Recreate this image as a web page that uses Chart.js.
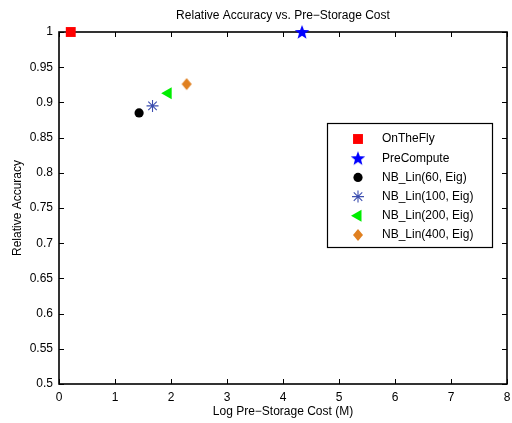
<!DOCTYPE html>
<html>
<head>
<meta charset="utf-8">
<script src="https://cdn.jsdelivr.net/npm/chart.js@4/dist/chart.umd.min.js"></script>
<style>
  html, body { margin:0; padding:0; background:#fff; }
  #wrap { width:512px; height:423px; overflow:hidden; }
</style>
</head>
<body>
<div id="wrap"><canvas id="c" width="512" height="423"></canvas></div>
<script>
// series (x = log pre-storage cost, y = relative accuracy)
var seriesNames = ['OnTheFly','PreCompute','NB_Lin(60, Eig)','NB_Lin(100, Eig)','NB_Lin(200, Eig)','NB_Lin(400, Eig)'];
var costX = [0.21, 4.34, 1.43, 1.67, 1.95, 2.28];
var accuracyY = [1.0, 1.0, 0.885, 0.895, 0.913, 0.926];
var xTicks = [0,1,2,3,4,5,6,7,8];
var yTicks = [0.5,0.55,0.6,0.65,0.7,0.75,0.8,0.85,0.9,0.95,1];

(function(){
  Chart.defaults.font.family = '"Liberation Sans", Arial, sans-serif';
  Chart.defaults.font.size = 12;
  Chart.defaults.color = '#000';

  // filled five point star, MATLAB style 'p'
  function starImg(color){
    var c = document.createElement('canvas'); c.width = 16; c.height = 16;
    var g = c.getContext('2d'); g.fillStyle = color; g.beginPath();
    for(var i=0;i<10;i++){
      var r = i%2 ? 3.2 : 7.6, a = -Math.PI/2 + i*Math.PI/5;
      var px = 8 + r*Math.cos(a), py = 8.6 + r*Math.sin(a);
      if(i===0) g.moveTo(px,py); else g.lineTo(px,py);
    }
    g.closePath(); g.fill();
    return c;
  }

  // MATLAB diamond is a bit taller than wide
  function diamondImg(color){
    var c = document.createElement('canvas'); c.width = 12; c.height = 14;
    var g = c.getContext('2d'); g.fillStyle = color; g.beginPath();
    g.moveTo(6,1); g.lineTo(11,7); g.lineTo(6,13); g.lineTo(1,7); g.closePath(); g.fill();
    return c;
  }

  var styles = [
    { pointStyle:'rect', radius:7, color:'#ff0000', rotation:0, bw:0 },
    { pointStyle:starImg('#0000ff'), radius:8, color:'#0000ff', rotation:0, bw:0 },
    { pointStyle:'circle', radius:4.6, color:'#000000', rotation:0, bw:0 },
    { pointStyle:'star', radius:6, color:'#3d4fb0', rotation:0, bw:1.1 },
    { pointStyle:'triangle', radius:7, color:'#00ee00', rotation:-90, bw:0 },
    { pointStyle:diamondImg('#e08020'), radius:7, color:'#e08020', rotation:0, bw:0 }
  ];

  var datasets = seriesNames.map(function(name, i){
    var s = styles[i];
    return {
      label: name,
      data: [{ x: costX[i], y: accuracyY[i] }],
      pointStyle: s.pointStyle,
      pointRadius: s.radius,
      pointHoverRadius: s.radius,
      pointRotation: s.rotation,
      backgroundColor: s.color,
      borderColor: s.color,
      borderWidth: s.bw,
      showLine: false,
      clip: false
    };
  });

  // box with inward ticks on all four sides, drawn under the markers
  var framePlugin = {
    id: 'frame',
    beforeDatasetsDraw: function(chart){
      var a = chart.chartArea, ctx = chart.ctx, xs = chart.scales.x, ys = chart.scales.y, L = 5;
      ctx.save();
      ctx.strokeStyle = '#000'; ctx.lineWidth = 1;
      ctx.beginPath();
      xTicks.forEach(function(v){
        var px = Math.round(xs.getPixelForValue(v)) + 0.5;
        ctx.moveTo(px, a.bottom); ctx.lineTo(px, a.bottom - L);
        ctx.moveTo(px, a.top); ctx.lineTo(px, a.top + L);
      });
      yTicks.forEach(function(v){
        var py = Math.round(ys.getPixelForValue(v)) + 0.5;
        ctx.moveTo(a.left, py); ctx.lineTo(a.left + L, py);
        ctx.moveTo(a.right, py); ctx.lineTo(a.right - L, py);
      });
      ctx.stroke();
      ctx.lineWidth = 1.6;
      ctx.strokeRect(a.left, a.top, a.right - a.left, a.bottom - a.top);
      // title
      ctx.fillStyle = '#000'; ctx.font = '12px "Liberation Sans", Arial, sans-serif';
      ctx.textAlign = 'center'; ctx.textBaseline = 'middle';
      ctx.fillText('Relative Accuracy vs. Pre\u2212Storage Cost', (a.left + a.right)/2, 16);
      ctx.restore();
    }
  };

  // legend box inside the axes, upper right
  var legendPlugin = {
    id: 'boxLegend',
    afterDatasetsDraw: function(chart){
      var a = chart.chartArea, ctx = chart.ctx;
      var bx = a.right - 180, by = a.top + 91, bw = 165, bh = 124, rowH = 19.2;
      ctx.save();
      ctx.fillStyle = '#fff'; ctx.fillRect(bx, by, bw, bh);
      ctx.strokeStyle = '#000'; ctx.lineWidth = 1.2; ctx.strokeRect(bx + 0.5, by + 0.5, bw, bh);
      ctx.font = '12px "Liberation Sans", Arial, sans-serif';
      ctx.textAlign = 'left'; ctx.textBaseline = 'middle';
      seriesNames.forEach(function(name, i){
        var s = styles[i], y = by + 16 + i*rowH;
        ctx.fillStyle = s.color; ctx.strokeStyle = s.color; ctx.lineWidth = s.bw || 1;
        Chart.helpers.drawPoint(ctx, { pointStyle: s.pointStyle, radius: s.radius, rotation: s.rotation, borderWidth: s.bw }, bx + 31, y);
        ctx.fillStyle = '#000';
        ctx.fillText(name, bx + 55, y);
      });
      ctx.restore();
    }
  };

  new Chart(document.getElementById('c'), {
    type: 'scatter',
    data: { datasets: datasets },
    plugins: [framePlugin, legendPlugin],
    options: {
      responsive: false,
      animation: false,
      layout: { autoPadding: false, padding: { top: 32, right: 5, left: 0, bottom: 0 } },
      plugins: { legend: { display: false }, tooltip: { enabled: false }, title: { display: false } },
      scales: {
        x: {
          type: 'linear', min: 0, max: 8,
          afterBuildTicks: function(s){ s.ticks = xTicks.map(function(v){ return { value: v }; }); },
          afterFit: function(s){ s.height = 39; s.paddingRight = 0; s.paddingLeft = 0; },
          grid: { display: false, drawTicks: false },
          border: { display: false },
          ticks: { padding: 6, maxRotation: 0, autoSkip: false, color: '#000' },
          title: { display: true, text: 'Log Pre\u2212Storage Cost (M)', color: '#000', padding: { top: 0, bottom: 4 } }
        },
        y: {
          type: 'linear', min: 0.5, max: 1,
          afterBuildTicks: function(s){ s.ticks = yTicks.map(function(v){ return { value: v }; }); },
          afterFit: function(s){ s.width = 59; s.paddingTop = 0; s.paddingBottom = 0; },
          grid: { display: false, drawTicks: false },
          border: { display: false },
          ticks: { padding: 6, autoSkip: false, color: '#000', callback: function(v){ return String(v); } },
          title: { display: true, text: 'Relative Accuracy', color: '#000', padding: { top: 10, bottom: 0 } }
        }
      }
    }
  });
})();
</script>
</body>
</html>
